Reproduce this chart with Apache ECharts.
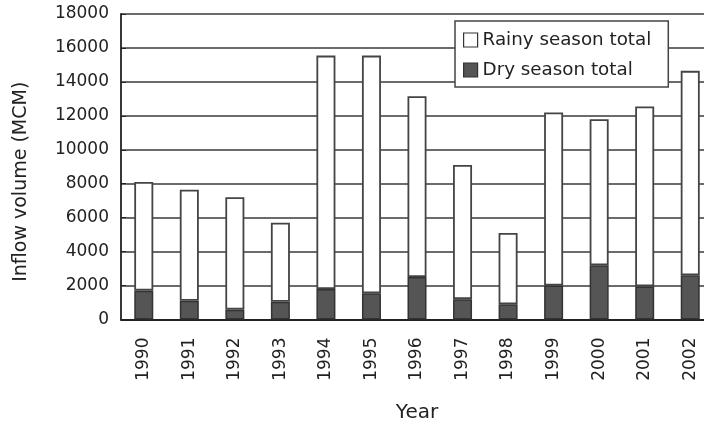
<!DOCTYPE html>
<html>
<head>
<meta charset="utf-8">
<script src="https://cdn.jsdelivr.net/npm/echarts@6/dist/echarts.min.js"></script>
<style>html,body{margin:0;padding:0;background:#fff;}#c{width:704px;height:425px;}</style>
</head>
<body>
<div id="c"></div>
<script>
const years = ['1990','1991','1992','1993','1994','1995','1996','1997','1998','1999','2000','2001','2002'];
const dryTotal = [1700, 1100, 580, 1050, 1800, 1550, 2500, 1200, 900, 2000, 3200, 1950, 2600];
const rainyTotal = [6400, 6550, 6620, 4650, 13750, 14000, 10650, 7900, 4200, 10200, 8600, 10600, 12050];
const yTicks = [0, 2000, 4000, 6000, 8000, 10000, 12000, 14000, 16000, 18000];

const font = 'DejaVu Sans';
const chart = echarts.init(document.getElementById('c'));
chart.setOption({
  animation: false,
  backgroundColor: '#fff',
  textStyle: { fontFamily: font },
  grid: { left: 121, top: 14, width: 592, height: 305.5, containLabel: false, outerBoundsMode: 'none' },
  legend: {
    orient: 'vertical',
    left: 455, top: 21,
    padding: [10, 17, 8, 8],
    itemGap: 12,
    itemWidth: 14, itemHeight: 14,
    backgroundColor: '#fff',
    borderColor: '#444', borderWidth: 1.5,
    textStyle: { fontFamily: font, fontSize: 18.3, color: '#222' },
    data: [
      { name: 'Rainy season total', icon: 'rect', itemStyle: { color: '#fff', borderColor: '#333', borderWidth: 1.2 } },
      { name: 'Dry season total', icon: 'rect', itemStyle: { color: '#555', borderColor: '#333', borderWidth: 1.2 } }
    ]
  },
  xAxis: {
    type: 'category',
    data: years,
    name: 'Year',
    nameLocation: 'middle',
    nameGap: 83,
    nameTextStyle: { fontFamily: font, fontSize: 20, color: '#222' },
    axisLine: { lineStyle: { color: '#222', width: 1.8 } },
    axisTick: { inside: true, length: 6, lineStyle: { color: '#333', width: 1.2 } },
    axisLabel: { rotate: 90, fontFamily: font, fontSize: 17, color: '#222', margin: 18 },
    splitLine: { show: false }
  },
  yAxis: {
    type: 'value',
    min: 0, max: 18000, interval: 2000,
    name: 'Inflow volume (MCM)',
    nameLocation: 'middle',
    nameGap: 90,
    nameRotate: 90,
    nameTextStyle: { fontFamily: font, fontSize: 19, color: '#222', padding: [0, 30, 0, 0] },
    axisLine: { show: true, lineStyle: { color: '#222', width: 1.8 } },
    axisTick: { show: true, inside: true, length: 5, lineStyle: { color: '#222' } },
    axisLabel: { fontFamily: font, fontSize: 17, color: '#222', margin: 12,
      formatter: v => yTicks.includes(v) ? String(v) : '' },
    splitLine: { show: true, lineStyle: { color: '#3a3a3a', width: 1.5 } }
  },
  series: [
    { name: 'Dry season total', type: 'bar', stack: 't', data: dryTotal, barWidth: 19,
      itemStyle: { color: '#555', borderColor: '#333', borderWidth: 1.5 } },
    { name: 'Rainy season total', type: 'bar', stack: 't', data: rainyTotal, barWidth: 19,
      itemStyle: { color: '#fff', borderColor: '#444', borderWidth: 1.8 } }
  ]
});
</script>
</body>
</html>
